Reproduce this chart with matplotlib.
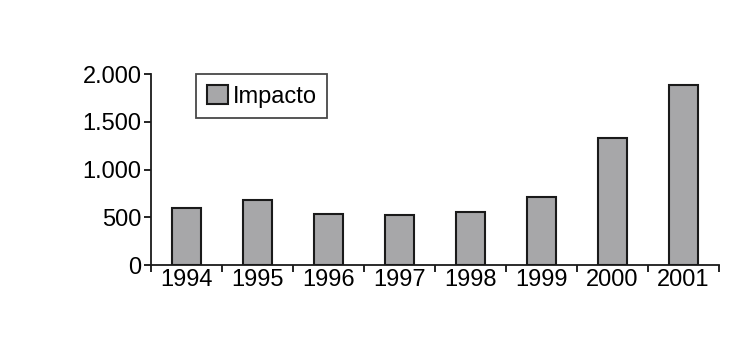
import numpy as np
import matplotlib
matplotlib.use("Agg")
import matplotlib.pyplot as plt
from matplotlib.ticker import FuncFormatter

plt.rcParams['font.family'] = ['Liberation Sans Narrow', 'Liberation Sans', 'DejaVu Sans']

# datos
years = ['1994', '1995', '1996', '1997', '1998', '1999', '2000', '2001']
impacto = [594, 681, 531, 524, 555, 715, 1327, 1885]
y_ticks = [0, 500, 1000, 1500, 2000]

fig = plt.figure(figsize=(7.3, 3.46), dpi=100)
ax = fig.add_axes([0.207, 0.234, 0.778, 0.552])

x = np.arange(len(years))
ax.bar(x, impacto, width=0.4, color='#a7a7a9', edgecolor='#1a1a1a',
       linewidth=1.5, label='Impacto')

ax.set_xlim(-0.5, len(years) - 0.5)
ax.set_ylim(0, 2000)
ax.set_yticks(y_ticks)
ax.yaxis.set_major_formatter(FuncFormatter(lambda v, p: f'{int(v):,}'.replace(',', '.')))

# años como etiquetas, marcas entre categorías
ax.set_xticks(x)
ax.set_xticklabels(years)
ax.tick_params(axis='x', which='major', length=0, labelsize=17, pad=3)
ax.set_xticks(np.arange(len(years) + 1) - 0.5, minor=True)
ax.tick_params(axis='x', which='minor', length=5, width=1.2, direction='out')
ax.tick_params(axis='y', length=5, width=1.2, labelsize=17, pad=2)

for s in ['top', 'right']:
    ax.spines[s].set_visible(False)
for s in ['left', 'bottom']:
    ax.spines[s].set_linewidth(1.3)
    ax.spines[s].set_color('#1a1a1a')

leg = ax.legend(loc='upper left', bbox_to_anchor=(0.079, 1.0), fontsize=17,
                frameon=True, fancybox=False, edgecolor='#1a1a1a',
                handlelength=0.9, handleheight=0.9, handletextpad=0.2,
                borderpad=0.45, borderaxespad=0.0)
leg.get_frame().set_linewidth(1.3)

fig.savefig('out.png', dpi=100)
